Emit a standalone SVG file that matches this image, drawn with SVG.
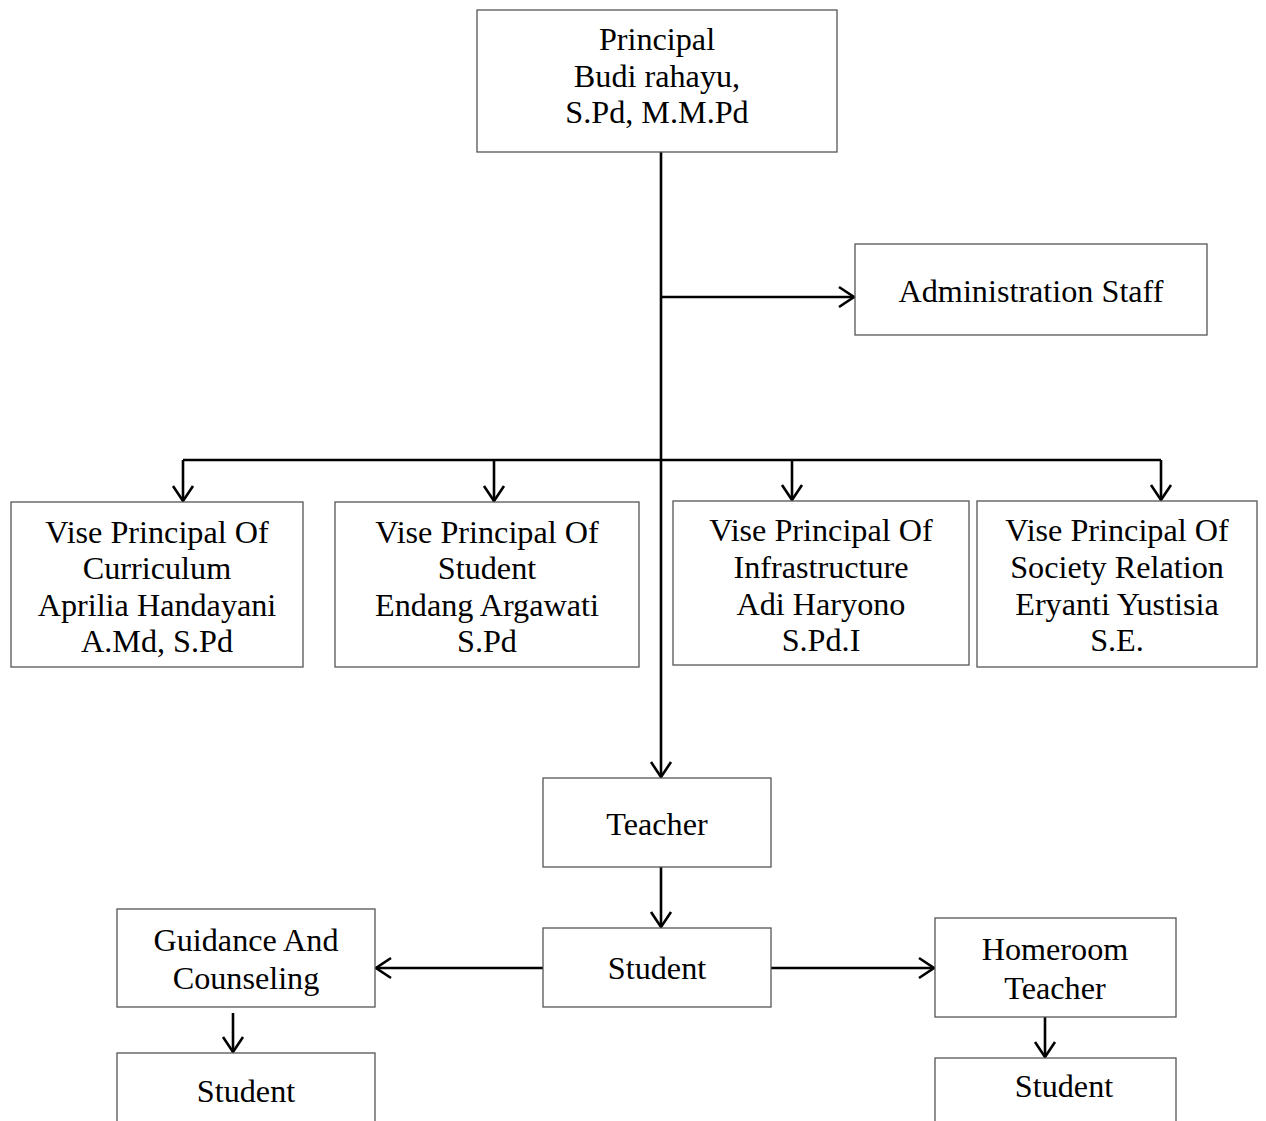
<svg xmlns="http://www.w3.org/2000/svg" width="1266" height="1121" viewBox="0 0 1266 1121">
<style>
.box{fill:#fff;stroke:#555;stroke-width:1.3}
.t{font-family:"Liberation Serif","Times New Roman",serif;font-size:32.2px;fill:#000;text-anchor:middle}
.c{fill:none;stroke:#000;stroke-width:2.6}
</style>
<defs>
<marker id="ah" markerUnits="userSpaceOnUse" viewBox="-18 -12 20 24" refX="0" refY="0" markerWidth="20" markerHeight="24" orient="auto">
<path d="M-15,-10 L0,0 L-15,10" fill="none" stroke="#000" stroke-width="2.6"/>
</marker>
</defs>
<rect width="1266" height="1121" fill="#fff"/>
<g id="connectors">
<path class="c" d="M661,152 V777" marker-end="url(#ah)"/>
<path class="c" d="M661,297 H854" marker-end="url(#ah)"/>
<path class="c" d="M183,460 H1161"/>
<path class="c" d="M183,460 V501" marker-end="url(#ah)"/>
<path class="c" d="M494,460 V501" marker-end="url(#ah)"/>
<path class="c" d="M792,460 V500" marker-end="url(#ah)"/>
<path class="c" d="M1161,460 V500" marker-end="url(#ah)"/>
<path class="c" d="M661,867 V927" marker-end="url(#ah)"/>
<path class="c" d="M543,968 H376" marker-end="url(#ah)"/>
<path class="c" d="M771,968 H934" marker-end="url(#ah)"/>
<path class="c" d="M233,1013 V1052" marker-end="url(#ah)"/>
<path class="c" d="M1045,1014 V1057" marker-end="url(#ah)"/>
</g>
<g id="principal"><rect class="box" x="477" y="10" width="360" height="142"/>
<text class="t" x="657" y="50">Principal</text><text class="t" x="657" y="87">Budi rahayu,</text><text class="t" x="657" y="123">S.Pd, M.M.Pd</text></g>
<g id="admin"><rect class="box" x="855" y="244" width="352" height="91"/>
<text class="t" x="1031" y="302">Administration Staff</text></g>
<g id="vp-curriculum"><rect class="box" x="11" y="502" width="292" height="165"/>
<text class="t" x="157" y="543">Vise Principal Of</text><text class="t" x="157" y="579">Curriculum</text><text class="t" x="157" y="616">Aprilia Handayani</text><text class="t" x="157" y="652">A.Md, S.Pd</text></g>
<g id="vp-student"><rect class="box" x="335" y="502" width="304" height="165"/>
<text class="t" x="487" y="543">Vise Principal Of</text><text class="t" x="487" y="579">Student</text><text class="t" x="487" y="616">Endang Argawati</text><text class="t" x="487" y="652">S.Pd</text></g>
<g id="vp-infrastructure"><rect class="box" x="673" y="501" width="296" height="164"/>
<text class="t" x="821" y="541">Vise Principal Of</text><text class="t" x="821" y="578">Infrastructure</text><text class="t" x="821" y="615">Adi Haryono</text><text class="t" x="821" y="651">S.Pd.I</text></g>
<g id="vp-society"><rect class="box" x="977" y="501" width="280" height="166"/>
<text class="t" x="1117" y="541">Vise Principal Of</text><text class="t" x="1117" y="578">Society Relation</text><text class="t" x="1117" y="615">Eryanti Yustisia</text><text class="t" x="1117" y="651">S.E.</text></g>
<g id="teacher"><rect class="box" x="543" y="778" width="228" height="89"/>
<text class="t" x="657" y="835">Teacher</text></g>
<g id="student"><rect class="box" x="543" y="928" width="228" height="79"/>
<text class="t" x="657" y="979">Student</text></g>
<g id="guidance"><rect class="box" x="117" y="909" width="258" height="98"/>
<text class="t" x="246" y="951">Guidance And</text><text class="t" x="246" y="989">Counseling</text></g>
<g id="homeroom"><rect class="box" x="935" y="918" width="241" height="99"/>
<text class="t" x="1055" y="960">Homeroom</text><text class="t" x="1055" y="999">Teacher</text></g>
<g id="student-left"><rect class="box" x="117" y="1053" width="258" height="90"/>
<text class="t" x="246" y="1102">Student</text></g>
<g id="student-right"><rect class="box" x="935" y="1058" width="241" height="90"/>
<text class="t" x="1064" y="1097">Student</text></g>
</svg>
